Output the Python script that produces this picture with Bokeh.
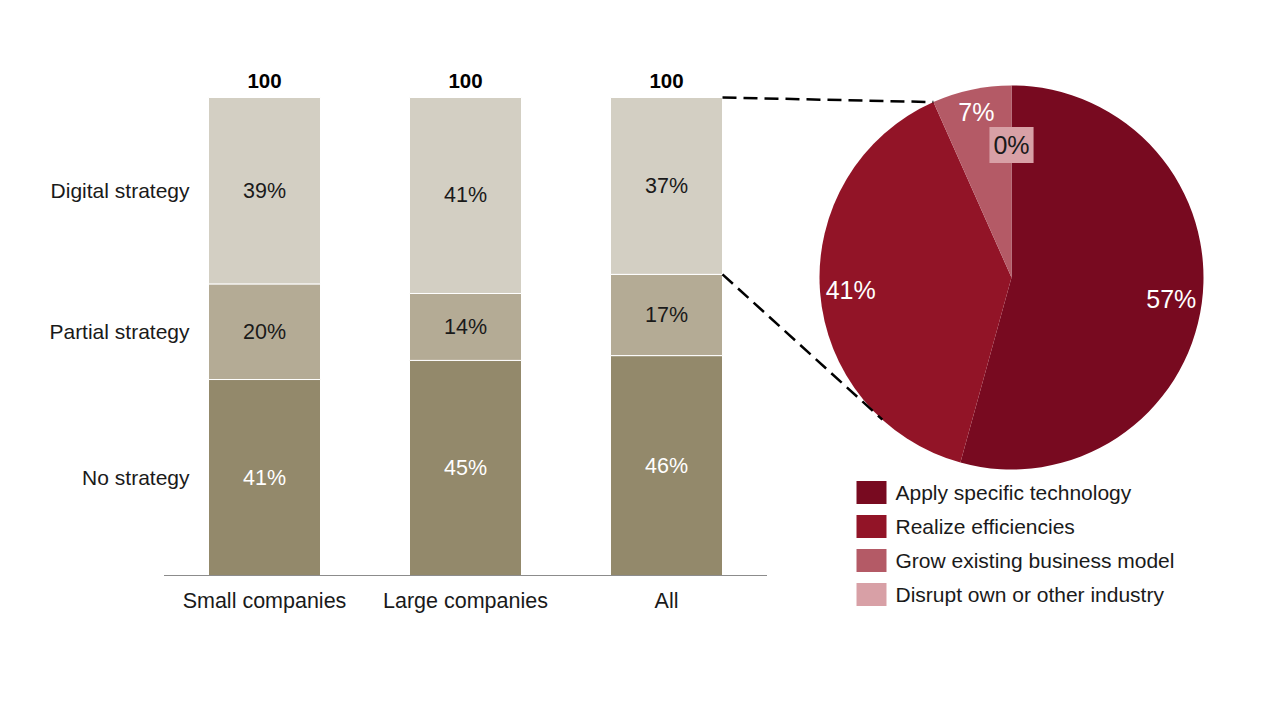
import math
from bokeh.plotting import figure
from bokeh.models import Range1d, Label
from bokeh.core.properties import value
from bokeh.embed import file_html
from bokeh.resources import INLINE

# ---------------- data ----------------
groups = ["Small companies", "Large companies", "All"]
segments = ["No strategy", "Partial strategy", "Digital strategy"]
no_strategy = [41, 45, 46]
partial_strategy = [20, 14, 17]
digital_strategy = [39, 41, 37]
totals = [100, 100, 100]

pie_labels = ["Apply specific technology", "Realize efficiencies",
              "Grow existing business model", "Disrupt own or other industry"]
pie_values = [57, 41, 7, 0]

# ---------------- styles ----------------
seg_colors = ["#93896B", "#B4AB95", "#D3CFC3"]
seg_text = ["white", "#1a1a1a", "#1a1a1a"]
pie_colors = ["#780A20", "#921427", "#B45A66", "#D8A0A6"]
FONT = "Liberation Sans"
TXT = "#1a1a1a"

W, H = 1280, 720
XPX = 201.0     # pixels per x unit (one bar slot)
YPX = 4.78      # pixels per percentage point
X0PX = 264.0    # pixel of first bar centre
Y0PX = 145.0    # pixel (from bottom) of 0 %

p = figure(width=W, height=H, output_backend="svg", toolbar_location=None,
           x_range=Range1d(-X0PX / XPX, (W - X0PX) / XPX),
           y_range=Range1d(-Y0PX / YPX, (H - Y0PX) / YPX),
           min_border=0, x_axis_location=None, y_axis_location=None)
p.grid.visible = False
p.outline_line_color = None
p.background_fill_color = "white"
p.border_fill_color = "white"

xs = list(range(len(groups)))
bw = 112 / XPX

# stacked bars
stack = [no_strategy, partial_strategy, digital_strategy]
bottoms = [0] * len(groups)
for vals, col, tcol in zip(stack, seg_colors, seg_text):
    tops = [b + v for b, v in zip(bottoms, vals)]
    p.vbar(x=xs, bottom=bottoms, top=tops, width=bw, fill_color=col,
           line_color="white", line_width=1)
    mids = [(b + t) / 2 for b, t in zip(bottoms, tops)]
    p.text(x=xs, y=mids, text=[f"{v}%" for v in vals], text_align="center",
           text_baseline="middle", text_font=value(FONT), text_font_size="21.5px",
           text_color=tcol)
    bottoms = tops

# totals above bars
p.text(x=xs, y=[t + 17 / YPX for t in totals], text=[str(t) for t in totals],
       text_align="center", text_baseline="middle", text_font=value(FONT),
       text_font_size="20.5px", text_font_style="bold", text_color="black")

# baseline
p.segment(x0=[-0.5], y0=[0], x1=[len(groups) - 0.5], y1=[0],
          line_color="#8c8c8c", line_width=1.2)

# x category labels
p.text(x=xs, y=[-25 / YPX] * len(groups), text=groups, text_align="center",
       text_baseline="middle", text_font=value(FONT), text_font_size="21.5px",
       text_color=TXT)

# left segment labels (centred on first bar's segments)
b = 0
ys = []
for vals in stack:
    ys.append(b + vals[0] / 2)
    b += vals[0]
p.text(x=[-bw / 2 - 19 / XPX] * 3, y=ys, text=segments, text_align="right",
       text_baseline="middle", text_font=value(FONT), text_font_size="21px",
       text_color=TXT)

# ---------------- pie ----------------
cx_px, cy_px, R_px = 1011.0, 720 - 277.0, 192.0
cx = (cx_px - X0PX) / XPX
cy = (cy_px - Y0PX) / YPX
R = R_px / XPX
tot = sum(pie_values)
cum = 0
starts, ends, mids = [], [], []
for v in pie_values:
    a0 = math.pi / 2 - 2 * math.pi * cum / tot
    cum += v
    a1 = math.pi / 2 - 2 * math.pi * cum / tot
    starts.append(a0)
    ends.append(a1)
    mids.append((a0 + a1) / 2)

for a0, a1, v, col in zip(starts, ends, pie_values, pie_colors):
    if v > 0:
        p.wedge(x=[cx], y=[cy], radius=R, start_angle=[a0], end_angle=[a1],
                direction="clock", fill_color=col, line_color=None)

lab_r = [0.84, 0.84, 0.88, 0.69]
for v, a, rr in zip(pie_values, mids, lab_r):
    lx = cx + rr * R_px * math.cos(a) / XPX
    ly = cy + rr * R_px * math.sin(a) / YPX
    if v > 0:
        p.text(x=[lx], y=[ly], text=[f"{v}%"], text_align="center",
               text_baseline="middle", text_font=value(FONT),
               text_font_size="25px", text_color="white")
    else:
        p.add_layout(Label(x=lx, y=ly, text=f"{v}%", text_align="center",
                           text_baseline="middle", text_font=FONT,
                           text_font_size="25px", text_color=TXT,
                           background_fill_color=pie_colors[3],
                           padding=4))

# connector dashed lines
ax = xs[-1] + bw / 2
top_all = no_strategy[-1] + partial_strategy[-1] + digital_strategy[-1]
low_all = no_strategy[-1] + partial_strategy[-1]
# upper: to the start of the "grow" slice
a_up = starts[2]
ux = cx + R_px * math.cos(a_up) / XPX
uy = cy + R_px * math.sin(a_up) / YPX
# lower: tangent from the bar to the circle
px_ = X0PX + ax * XPX
py_ = Y0PX + low_all * YPX
dx, dy = px_ - cx_px, py_ - cy_px
d = math.hypot(dx, dy)
th = math.atan2(dy, dx) + math.acos(R_px / d)
lx_ = cx + R_px * math.cos(th) / XPX
ly_ = cy + R_px * math.sin(th) / YPX
p.segment(x0=[ax, ax], y0=[top_all, low_all], x1=[ux, lx_], y1=[uy, ly_],
          line_color="black", line_width=2.5, line_dash="14 7")

# legend
leg_x = (871 - X0PX) / XPX
leg_y0 = (720 - 492 - Y0PX) / YPX
step = 34 / YPX
leg_ys = [leg_y0 - i * step for i in range(len(pie_labels))]
p.rect(x=[leg_x] * 4, y=leg_ys, width=30 / XPX, height=23 / YPX,
       fill_color=pie_colors, line_color=None)
p.text(x=[(895 - X0PX) / XPX] * 4, y=leg_ys, text=pie_labels, text_align="left",
       text_baseline="middle", text_font=value(FONT), text_font_size="21px",
       text_color=TXT)

open("out.html", "w").write(file_html(p, INLINE))
